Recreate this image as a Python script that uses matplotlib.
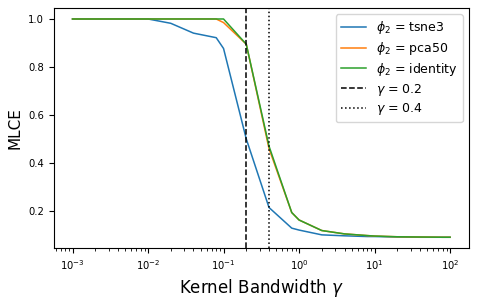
import matplotlib

matplotlib.use("Agg")
import matplotlib.pyplot as plt

gammas = [0.001, 0.002, 0.004, 0.008, 0.01, 0.02, 0.04, 0.08, 0.1, 0.2, 0.4,
          0.8, 1, 2, 4, 8, 10, 20, 40, 80, 100]
mlce_tsne3 = [1.0, 1.0, 1.0, 1.0, 1.0, 0.982, 0.941, 0.922, 0.877, 0.50, 0.214,
              0.128, 0.12, 0.10, 0.096, 0.093, 0.093, 0.091, 0.09, 0.09, 0.09]
mlce_pca50 = [1.0, 1.0, 1.0, 1.0, 1.0, 1.0, 1.0, 1.0, 0.985, 0.895, 0.46,
              0.193, 0.162, 0.118, 0.104, 0.097, 0.095, 0.092, 0.091, 0.09, 0.09]
mlce_identity = [1.0, 1.0, 1.0, 1.0, 1.0, 1.0, 1.0, 1.0, 1.0, 0.895, 0.47,
                 0.193, 0.162, 0.118, 0.104, 0.097, 0.095, 0.092, 0.091, 0.09, 0.09]
vlines = [(0.2, "--", r"$\gamma$ = 0.2"), (0.4, ":", r"$\gamma$ = 0.4")]

fig, ax = plt.subplots(figsize=(4.79, 2.99), dpi=100)
fig.subplots_adjust(left=0.112, right=0.979, top=0.973, bottom=0.17)

ax.plot(gammas, mlce_tsne3, color="C0", lw=1.1, label=r"$\phi_2$ = tsne3")
ax.plot(gammas, mlce_pca50, color="C1", lw=1.1, label=r"$\phi_2$ = pca50")
ax.plot(gammas, mlce_identity, color="C2", lw=1.1, label=r"$\phi_2$ = identity")
for g, ls, lab in vlines:
    ax.axvline(g, color="k", ls=ls, lw=1.1, label=lab)

ax.set_xscale("log")
ax.set_xlabel(r"Kernel Bandwidth $\gamma$", fontsize=12)
ax.set_ylabel("MLCE", fontsize=11)
ax.tick_params(labelsize=7.2)
ax.legend(loc="upper right", fontsize=9, labelspacing=0.3)

fig.savefig("out.png")
